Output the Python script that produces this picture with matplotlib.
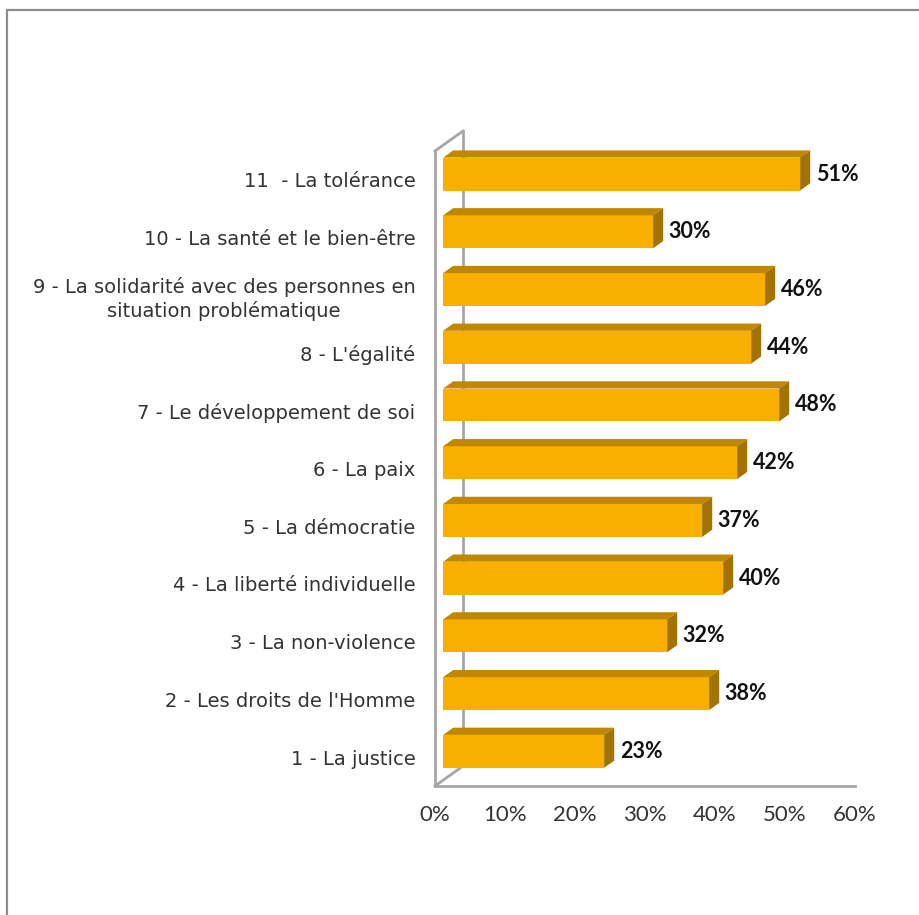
import matplotlib.pyplot as plt
from matplotlib.patches import Rectangle, Polygon

# données
categories = [
    "1 - La justice",
    "2 - Les droits de l'Homme",
    "3 - La non-violence",
    "4 - La liberté individuelle",
    "5 - La démocratie",
    "6 - La paix",
    "7 - Le développement de soi",
    "8 - L'égalité",
    "9 - La solidarité avec des personnes en\nsituation problématique",
    "10 - La santé et le bien-être",
    "11  - La tolérance",
]
values = [23, 38, 32, 40, 37, 42, 48, 44, 46, 30, 51]
xticks = [0, 10, 20, 30, 40, 50, 60]

plt.rcParams['font.family'] = ['Lato', 'DejaVu Sans']

W, H = 919, 915
fig = plt.figure(figsize=(W / 100, H / 100), dpi=100)
fig.patches.append(Rectangle((7 / W, -0.1), 1.2, 1 - 10 / H + 0.1, transform=fig.transFigure,
                             fill=False, edgecolor='#8c8c8c', linewidth=1.6))

ax = fig.add_axes([435 / W, 1 - 786 / H, 420 / W, 635 / H])
ax.set_xlim(0, 60)
ax.set_ylim(-0.5, 10.5)
for s in ax.spines.values():
    s.set_visible(False)

# profondeur 3D (en unités de données)
DX = 4.0
DY = 20 / 57.7
grey = '#a6a6a6'
lw = 2.0
ax.plot([0, 0], [-0.5, 10.5], color=grey, lw=lw, clip_on=False, zorder=1)
ax.plot([0, DX], [10.5, 10.5 + DY], color=grey, lw=lw, clip_on=False, zorder=1)
ax.plot([DX, DX], [-0.5 + DY, 10.5 + DY], color=grey, lw=lw, clip_on=False, zorder=1)
ax.plot([0, DX], [-0.5, -0.5 + DY], color=grey, lw=lw, clip_on=False, zorder=1)
ax.plot([0, 60], [-0.5, -0.5], color=grey, lw=lw, clip_on=False, zorder=1)

f0, f1 = 0.29, 0.65
h = 0.57
front_c, top_c, side_c = '#f9af00', '#c08800', '#a27300'
for k, v in enumerate(values):
    x0 = f0 * DX
    y0 = k - h / 2 + f0 * DY
    ax.add_patch(Rectangle((x0, y0), v, h, facecolor=front_c, edgecolor='none', zorder=3, clip_on=False))
    ax.add_patch(Polygon([(x0, y0 + h), (x0 + v, y0 + h),
                          (v + f1 * DX, k + h / 2 + f1 * DY), (f1 * DX, k + h / 2 + f1 * DY)],
                         facecolor=top_c, edgecolor='none', zorder=3, clip_on=False))
    ax.add_patch(Polygon([(x0 + v, y0), (v + f1 * DX, k - h / 2 + f1 * DY),
                          (v + f1 * DX, k + h / 2 + f1 * DY), (x0 + v, y0 + h)],
                         facecolor=side_c, edgecolor='none', zorder=3, clip_on=False))
    ax.text(v + f1 * DX + 0.8, k + f0 * DY, f'{v}%', ha='left', va='center',
            fontsize=15.5, fontweight='bold', color='#111111', zorder=4)

ax.set_yticks(range(len(categories)))
ax.set_yticklabels(categories, family=['DejaVu Sans'], fontsize=14, color='#333333',
                   multialignment='center', linespacing=1.2)
ax.set_xticks(xticks)
ax.set_xticklabels([f'{t}%' for t in xticks], fontsize=16, color='#333333')
ax.tick_params(axis='y', length=0, pad=14)
ax.tick_params(axis='x', length=0, pad=14)

fig.savefig('out.png', dpi=100)
